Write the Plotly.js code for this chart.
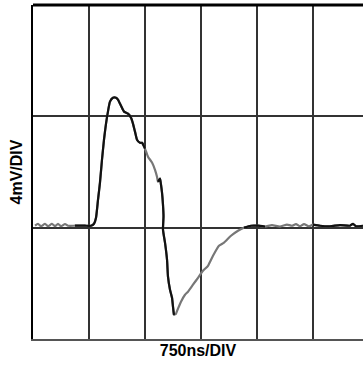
<!DOCTYPE html>
<html>
<head>
<meta charset="utf-8">
<script src="https://cdn.plot.ly/plotly-3.0.1.min.js"></script>
<style>html,body{margin:0;padding:0;background:#fff;}#chart{width:363px;height:367px;}</style>
</head>
<body>
<div id="chart"></div>
<script>
// time in ns (750 ns per division), amplitude in mV (4 mV per division)
var timeNs = [27,67,107,161,201,254,295,335,375,429,469,563,696,777,817,844,871,897,924,951,978,1004,1031,1071,1112,1138,1179,1219,1272,1313,1339,1366,1393,1433,1460,1500,1540,1594,1634,1661,1674,1701,1714,1728,1741,1748,1741,1768,1795,1808,1835,1862,1875,1888,1915,1942,1982,2036,2076,2143,2210,2277,2344,2411,2491,2558,2652,2746,2826,2920,3013,3107,3201,3308,3402,3469,3522,3576,3630,3696,3750,3844,3978,4112,4246,4286,4326,4420];
var signalMv = [0.07,0.14,0.05,0.14,0.05,0.14,0.05,0.14,0.05,0.13,0.07,0.07,0.07,0.07,0.14,0.36,1.01,1.62,2.44,3.16,3.74,4.17,4.53,4.67,4.67,4.60,4.38,4.17,4.10,3.95,3.74,3.45,3.16,3.05,3.05,2.84,2.55,2.34,2.08,1.83,1.65,1.76,1.55,1.26,0.83,0.40,-0.07,-0.54,-1.15,-1.76,-2.23,-2.52,-2.84,-3.13,-3.09,-2.91,-2.66,-2.41,-2.30,-2.05,-1.80,-1.55,-1.37,-1.01,-0.65,-0.54,-0.29,-0.11,0.00,0.07,0.07,0.04,0.09,0.04,0.11,0.07,0.13,0.05,0.13,0.05,0.11,0.07,0.05,0.09,0.07,0.14,0.05,0.07];
// portions of the trace printed darker
var darkSpansNs = [[563,1500],[1674,1888],[2826,3107],[3750,4420]];

var traces = [{
  x: timeNs, y: signalMv, type: 'scatter', mode: 'lines',
  line: {color: '#777777', width: 2.2, shape: 'spline', smoothing: 0.5},
  hoverinfo: 'skip', showlegend: false
}];
darkSpansNs.forEach(function (s) {
  var xs = [], ys = [];
  for (var i = 0; i < timeNs.length; i++) {
    if (timeNs[i] >= s[0] && timeNs[i] <= s[1]) { xs.push(timeNs[i]); ys.push(signalMv[i]); }
  }
  traces.push({x: xs, y: ys, type: 'scatter', mode: 'lines',
    line: {color: '#111111', width: 2.2, shape: 'spline', smoothing: 0.5},
    hoverinfo: 'skip', showlegend: false});
});

var layout = {
  width: 363, height: 367,
  margin: {l: 33, r: 0, t: 5, b: 28},
  paper_bgcolor: '#ffffff', plot_bgcolor: '#ffffff',
  font: {family: 'Liberation Sans, Arial, sans-serif', color: '#000'},
  xaxis: {
    range: [0, 4420], tick0: 0, dtick: 750, showticklabels: false, ticks: '',
    showgrid: true, gridcolor: '#333333', gridwidth: 2, zeroline: false,
    showline: true, linecolor: '#555555', linewidth: 2,
    title: {text: '750ns/DIV', font: {size: 16, weight: 'bold', color: '#000'}, standoff: 5}
  },
  yaxis: {
    range: [-4, 8], tick0: 0, dtick: 4, showticklabels: false, ticks: '',
    showgrid: true, gridcolor: '#333333', gridwidth: 2, zeroline: false,
    showline: true, linecolor: '#000000', linewidth: 2,
    title: {text: '4mV/DIV', font: {size: 16, weight: 'bold', color: '#000'}, standoff: 4}
  },
  shapes: [{type: 'line', xref: 'paper', yref: 'paper', x0: 0, x1: 1, y0: 1, y1: 1,
    line: {color: '#000', width: 3}}]
};
Plotly.newPlot('chart', traces, layout, {displayModeBar: false, staticPlot: true});
</script>
</body>
</html>
